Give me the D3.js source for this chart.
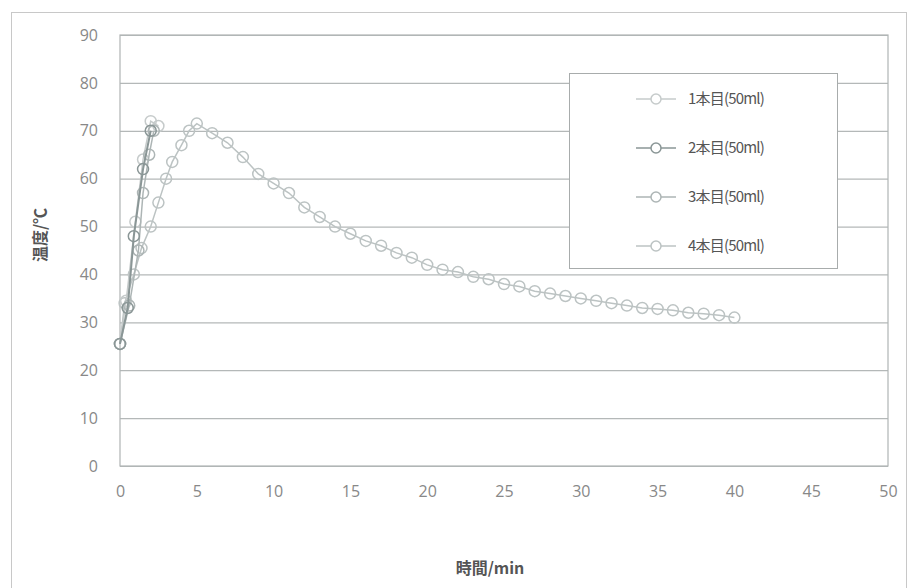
<!DOCTYPE html>
<html>
<head>
<meta charset="utf-8">
<script src="https://cdn.jsdelivr.net/npm/d3@7"></script>
<style>
  body { margin: 0; background: #fff; }
  svg { display: block; font-family: "Noto Sans CJK JP", "Noto Sans", sans-serif; }
</style>
</head>
<body>
<svg id="chart" width="910" height="588"></svg>
<script>
// series data (time in min, temperature in °C)
const seriesNames = ["1本目(50ml)", "2本目(50ml)", "3本目(50ml)", "4本目(50ml)"];
const s1Time = [0, 0.4, 1, 1.5, 2, 2.5];
const s1Temp = [25.5, 34.5, 51, 64, 72, 71];
const s2Time = [0, 0.5, 0.9, 1.5, 2];
const s2Temp = [25.5, 33, 48, 62, 70];
const s3Time = [0, 0.6, 1.2, 1.5, 1.9, 2.2];
const s3Temp = [25.5, 33.5, 45, 57, 65, 70];
const s4Time = [0, 0.3, 0.9, 1.4, 2, 2.5, 3, 3.4, 4, 4.5, 5, 6, 7, 8, 9, 10, 11, 12, 13, 14, 15, 16, 17, 18, 19, 20,
  21, 22, 23, 24, 25, 26, 27, 28, 29, 30, 31, 32, 33, 34, 35, 36, 37, 38, 39, 40];
const s4Temp = [25.5, 34, 40, 45.5, 50, 55, 60, 63.5, 67, 70, 71.5, 69.5, 67.5, 64.5, 61, 59, 57, 54, 52, 50, 48.5, 47, 46, 44.5, 43.5, 42,
  41, 40.5, 39.5, 39, 38, 37.5, 36.5, 36, 35.5, 35, 34.5, 34, 33.5, 33, 32.8, 32.5, 32, 31.8, 31.5, 31];
const xTicks = [0, 5, 10, 15, 20, 25, 30, 35, 40, 45, 50];
const yTicks = [0, 10, 20, 30, 40, 50, 60, 70, 80, 90];
const colors = ["#c6cbcb", "#8a9696", "#adb5b5", "#bcc3c3"];

const toPoints = (t, v) => t.map((d, i) => ({x: d, y: v[i]}));
const series = [
  toPoints(s1Time, s1Temp),
  toPoints(s2Time, s2Temp),
  toPoints(s3Time, s3Temp),
  toPoints(s4Time, s4Temp)
];

const svg = d3.select("#chart");
const margin = {left: 120, top: 35, right: 22, bottom: 122};
const width = 910 - margin.left - margin.right;
const height = 588 - margin.top - margin.bottom;

// outer frame
svg.append("rect")
  .attr("x", 11.5).attr("y", 12.5)
  .attr("width", 895).attr("height", 580)
  .attr("fill", "none").attr("stroke", "#c8c8c8");

const g = svg.append("g")
  .attr("transform", "translate(" + margin.left + "," + margin.top + ")");

const x = d3.scaleLinear().domain([0, 50]).range([0, width]);
const y = d3.scaleLinear().domain([0, 90]).range([height, 0]);

// gridlines
g.append("g")
  .call(d3.axisLeft(y).tickValues(yTicks).tickSize(-width).tickFormat(""))
  .call(a => a.select(".domain").remove())
  .call(a => a.selectAll("line").attr("stroke", "#b4b8b8").attr("stroke-width", 1.2));

// plot border
g.append("rect")
  .attr("width", width).attr("height", height)
  .attr("fill", "none").attr("stroke", "#b0b4b4").attr("stroke-width", 1.2);

// tick labels
g.append("g")
  .call(d3.axisLeft(y).tickValues(yTicks).tickSize(0).tickPadding(22))
  .call(a => a.select(".domain").remove())
  .call(a => a.selectAll("text").attr("fill", "#888").attr("font-size", 16)
    .attr("font-family", "'Open Sans', sans-serif"));

g.append("g")
  .attr("transform", "translate(0," + height + ")")
  .call(d3.axisBottom(x).tickValues(xTicks).tickSize(0).tickPadding(20))
  .call(a => a.select(".domain").remove())
  .call(a => a.selectAll("text").attr("fill", "#888").attr("font-size", 16)
    .attr("font-family", "'Open Sans', sans-serif"));

// axis titles
svg.append("text")
  .attr("transform", "translate(46,235) rotate(-90)")
  .attr("text-anchor", "middle")
  .attr("font-size", 16).attr("font-weight", "bold").attr("fill", "#555")
  .text("温度/℃");

svg.append("text")
  .attr("x", 490).attr("y", 574)
  .attr("text-anchor", "middle")
  .attr("font-size", 16).attr("font-weight", "bold").attr("fill", "#555")
  .text("時間/min");

// lines and markers
const line = d3.line().x(d => x(d.x)).y(d => y(d.y));
const order = [3, 0, 2, 1];
order.forEach(i => {
  const s = g.append("g");
  s.append("path")
    .datum(series[i])
    .attr("d", line)
    .attr("fill", "none")
    .attr("stroke", colors[i])
    .attr("stroke-width", i === 1 ? 2 : 1.5);
  s.selectAll("circle")
    .data(series[i])
    .enter()
    .append("circle")
    .attr("cx", d => x(d.x))
    .attr("cy", d => y(d.y))
    .attr("r", 5.5)
    .attr("fill", "none")
    .attr("stroke", colors[i])
    .attr("stroke-width", 1.5);
});

// legend
const legend = svg.append("g");
legend.append("rect")
  .attr("x", 569.5).attr("y", 73.5)
  .attr("width", 268).attr("height", 195)
  .attr("fill", "#fff").attr("stroke", "#a8acac");

seriesNames.forEach((name, i) => {
  const ly = 99 + i * 49;
  legend.append("line")
    .attr("x1", 636).attr("x2", 676).attr("y1", ly).attr("y2", ly)
    .attr("stroke", colors[i]).attr("stroke-width", 1.5);
  legend.append("circle")
    .attr("cx", 656).attr("cy", ly).attr("r", 5)
    .attr("fill", "#fff").attr("stroke", colors[i]).attr("stroke-width", 1.5);
  legend.append("text")
    .attr("x", 688).attr("y", ly + 5)
    .attr("font-size", 15).attr("fill", "#555")
    .attr("letter-spacing", "-0.8")
    .text(name);
});
</script>
</body>
</html>
